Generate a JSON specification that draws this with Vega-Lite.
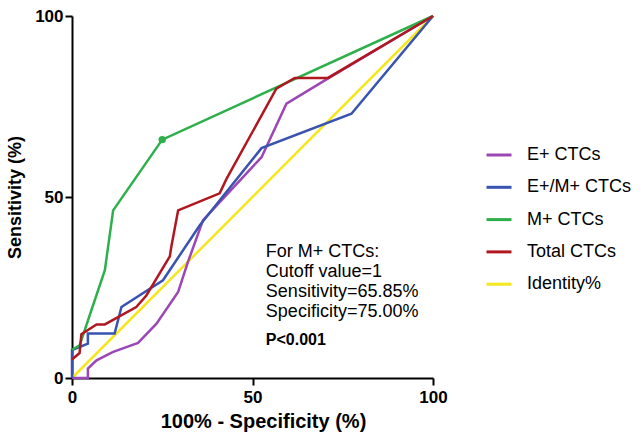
{
  "$schema": "https://vega.github.io/schema/vega-lite/v6.json",
  "autosize": "none",
  "width": 361,
  "height": 362,
  "padding": {"left": 72, "top": 16, "right": 208, "bottom": 61},
  "background": "white",
  "config": {
    "font": "Liberation Sans",
    "view": {"stroke": null},
    "axis": {
      "grid": false,
      "domainColor": "black",
      "domainWidth": 2,
      "tickColor": "black",
      "tickWidth": 2,
      "tickSize": 7,
      "labelColor": "black",
      "labelFontSize": 17,
      "labelFontWeight": "bold",
      "titleColor": "black",
      "titleFontWeight": "bold"
    }
  },
  "datasets": {
    "roc": [
      {"series": "Identity%", "k": 0, "x": 0, "y": 0},
      {"series": "Identity%", "k": 1, "x": 100, "y": 100},
      {"series": "E+ CTCs", "k": 0, "x": 0, "y": 0},
      {"series": "E+ CTCs", "k": 1, "x": 4.4, "y": 0},
      {"series": "E+ CTCs", "k": 2, "x": 4.4, "y": 2.6},
      {"series": "E+ CTCs", "k": 3, "x": 6.8, "y": 4.9},
      {"series": "E+ CTCs", "k": 4, "x": 11.4, "y": 7.2},
      {"series": "E+ CTCs", "k": 5, "x": 18.3, "y": 9.7},
      {"series": "E+ CTCs", "k": 6, "x": 23.4, "y": 15.0},
      {"series": "E+ CTCs", "k": 7, "x": 29.4, "y": 23.8},
      {"series": "E+ CTCs", "k": 8, "x": 32.1, "y": 32.0},
      {"series": "E+ CTCs", "k": 9, "x": 36.3, "y": 43.6},
      {"series": "E+ CTCs", "k": 10, "x": 52.5, "y": 61.0},
      {"series": "E+ CTCs", "k": 11, "x": 59.4, "y": 75.8},
      {"series": "E+ CTCs", "k": 12, "x": 70.5, "y": 82.5},
      {"series": "E+ CTCs", "k": 13, "x": 100, "y": 100},
      {"series": "E+/M+ CTCs", "k": 0, "x": 0, "y": 0},
      {"series": "E+/M+ CTCs", "k": 1, "x": 0, "y": 7.7},
      {"series": "E+/M+ CTCs", "k": 2, "x": 4.4, "y": 9.5},
      {"series": "E+/M+ CTCs", "k": 3, "x": 4.4, "y": 12.3},
      {"series": "E+/M+ CTCs", "k": 4, "x": 11.8, "y": 12.3},
      {"series": "E+/M+ CTCs", "k": 5, "x": 13.7, "y": 19.6},
      {"series": "E+/M+ CTCs", "k": 6, "x": 25.2, "y": 27.0},
      {"series": "E+/M+ CTCs", "k": 7, "x": 35.4, "y": 42.2},
      {"series": "E+/M+ CTCs", "k": 8, "x": 52.5, "y": 63.5},
      {"series": "E+/M+ CTCs", "k": 9, "x": 77.4, "y": 73.0},
      {"series": "E+/M+ CTCs", "k": 10, "x": 100, "y": 100},
      {"series": "M+ CTCs", "k": 0, "x": 0, "y": 7.8},
      {"series": "M+ CTCs", "k": 1, "x": 2.1, "y": 9.0},
      {"series": "M+ CTCs", "k": 2, "x": 9.1, "y": 29.8},
      {"series": "M+ CTCs", "k": 3, "x": 11.4, "y": 46.3},
      {"series": "M+ CTCs", "k": 4, "x": 25.0, "y": 65.85},
      {"series": "M+ CTCs", "k": 5, "x": 100, "y": 100},
      {"series": "Total CTCs", "k": 0, "x": 0, "y": 5.1},
      {"series": "Total CTCs", "k": 1, "x": 2.1, "y": 6.9},
      {"series": "Total CTCs", "k": 2, "x": 2.6, "y": 12.1},
      {"series": "Total CTCs", "k": 3, "x": 6.8, "y": 14.8},
      {"series": "Total CTCs", "k": 4, "x": 9.1, "y": 14.8},
      {"series": "Total CTCs", "k": 5, "x": 17.8, "y": 19.6},
      {"series": "Total CTCs", "k": 6, "x": 20.6, "y": 22.8},
      {"series": "Total CTCs", "k": 7, "x": 27.1, "y": 33.6},
      {"series": "Total CTCs", "k": 8, "x": 27.5, "y": 36.2},
      {"series": "Total CTCs", "k": 9, "x": 29.4, "y": 46.3},
      {"series": "Total CTCs", "k": 10, "x": 40.9, "y": 51.0},
      {"series": "Total CTCs", "k": 11, "x": 42.8, "y": 55.0},
      {"series": "Total CTCs", "k": 12, "x": 56.6, "y": 79.9},
      {"series": "Total CTCs", "k": 13, "x": 61.7, "y": 82.9},
      {"series": "Total CTCs", "k": 14, "x": 70.9, "y": 82.9},
      {"series": "Total CTCs", "k": 15, "x": 100, "y": 100}
    ],
    "cut": [
      {"series": "M+ CTCs", "x": 25.0, "y": 65.85}
    ],
    "notes": [
      {"x": 53.7, "y": 33.3, "label": "For M+ CTCs:"},
      {"x": 53.7, "y": 27.9, "label": "Cutoff value=1"},
      {"x": 53.7, "y": 22.4, "label": "Sensitivity=65.85%"},
      {"x": 53.7, "y": 16.9, "label": "Specificity=75.00%"}
    ],
    "pval": [
      {"x": 53.7, "y": 9.0, "label": "P<0.001"}
    ]
  },
  "layer": [
    {
      "data": {"name": "roc"},
      "mark": {"type": "line", "strokeWidth": 2.5, "interpolate": "linear"},
      "encoding": {
        "x": {
          "field": "x", "type": "quantitative",
          "scale": {"domain": [0, 100], "nice": false, "zero": false},
          "axis": {"values": [0, 50, 100], "title": "100% - Specificity (%)", "titleFontSize": 20, "titleX": 191, "titleAlign": "center", "labelPadding": 4, "titlePadding": 6, "labelFlush": false}
        },
        "y": {
          "field": "y", "type": "quantitative",
          "scale": {"domain": [0, 100], "nice": false, "zero": false},
          "axis": {"values": [0, 50, 100], "title": "Sensitivity (%)", "titleFontSize": 18, "labelPadding": 2, "titlePadding": 10, "labelFlush": false}
        },
        "color": {
          "field": "series", "type": "nominal",
          "scale": {
            "domain": ["E+ CTCs", "E+/M+ CTCs", "M+ CTCs", "Total CTCs", "Identity%"],
            "range": ["#9B47B5", "#3853B0", "#2DB04B", "#B0171F", "#F5E61E"]
          },
          "legend": {
            "title": null,
            "orient": "none",
            "legendX": 413,
            "legendY": 125,
            "symbolType": "stroke",
            "symbolSize": 625,
            "symbolStrokeWidth": 3,
            "labelFontSize": 18,
            "labelColor": "black",
            "labelOffset": 14,
            "rowPadding": 9.3,
            "labelLimit": 300
          }
        },
        "order": {"field": "k", "type": "quantitative"}
      }
    },
    {
      "data": {"name": "cut"},
      "mark": {"type": "point", "filled": true, "size": 55, "opacity": 1, "color": "#2DB04B"},
      "encoding": {
        "x": {"field": "x", "type": "quantitative"},
        "y": {"field": "y", "type": "quantitative"}
      }
    },
    {
      "data": {"name": "notes"},
      "mark": {"type": "text", "align": "left", "baseline": "alphabetic", "fontSize": 18, "color": "black"},
      "encoding": {
        "x": {"field": "x", "type": "quantitative"},
        "y": {"field": "y", "type": "quantitative"},
        "text": {"field": "label"}
      }
    },
    {
      "data": {"name": "pval"},
      "mark": {"type": "text", "align": "left", "baseline": "alphabetic", "fontSize": 16, "fontWeight": "bold", "color": "black"},
      "encoding": {
        "x": {"field": "x", "type": "quantitative"},
        "y": {"field": "y", "type": "quantitative"},
        "text": {"field": "label"}
      }
    }
  ]
}
